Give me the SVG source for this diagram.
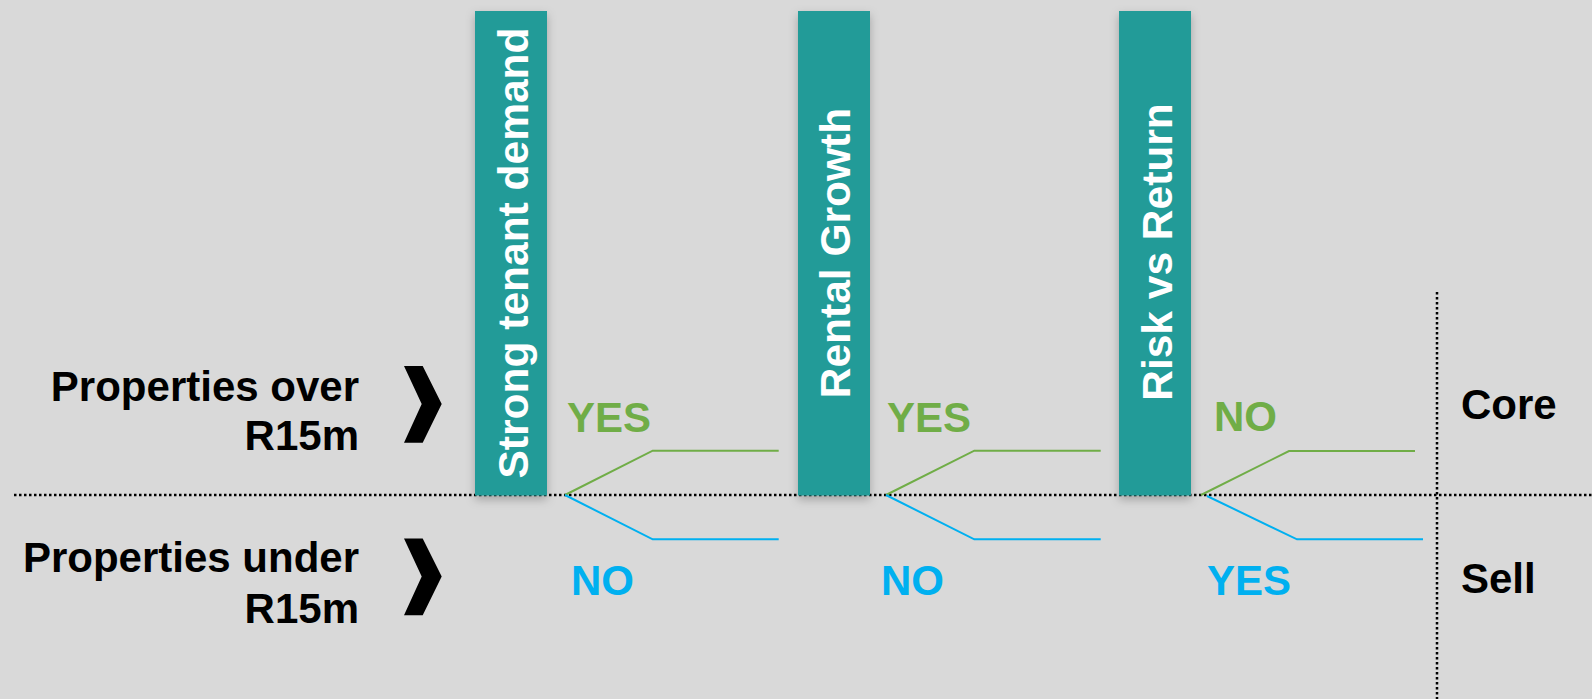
<svg xmlns="http://www.w3.org/2000/svg" width="1592" height="699" viewBox="0 0 1592 699">
  <style>
    .lbl { font-family: "Liberation Sans", Arial, sans-serif; font-weight: bold; font-size: 42px; }
    .dark { fill: #000000; }
    .bar-text { font-family: "Liberation Sans", Arial, sans-serif; font-weight: bold; font-size: 42.5px; fill: #ffffff; }
    .yes-g { fill: #70AD47; }
    .no-b { fill: #00B0F0; }
    .bar { fill: #239B98; filter: url(#shadow); }
    .grid { stroke: #000000; stroke-width: 2.5; stroke-dasharray: 2.5 2.5; fill: none; }
    .up { stroke: #70AD47; stroke-width: 2; fill: none; }
    .down { stroke: #00B0F0; stroke-width: 2; fill: none; }
  </style>
  <defs>
    <filter id="shadow" x="-40%" y="-10%" width="180%" height="120%">
      <feDropShadow dx="0" dy="4" stdDeviation="5" flood-color="#000000" flood-opacity="0.25"/>
    </filter>
    <polygon id="chevron" points="0,0 18.7,0 37.7,38 18.7,76.7 0,76.7 17.7,38"/>
  </defs>

  <rect x="0" y="0" width="1592" height="699" fill="#D9D9D9"/>

  <!-- divider lines -->
  <g id="dividers">
    <line class="grid" x1="14" y1="495" x2="1592" y2="495"/>
    <line class="grid" x1="1437" y1="292" x2="1437" y2="699"/>
  </g>

  <!-- row labels -->
  <g id="row-over">
    <text class="lbl dark" text-anchor="end" x="359" y="401">Properties over</text>
    <text class="lbl dark" text-anchor="end" x="359" y="450">R15m</text>
    <use href="#chevron" x="404" y="366"/>
  </g>
  <g id="row-under">
    <text class="lbl dark" text-anchor="end" x="359" y="572">Properties under</text>
    <text class="lbl dark" text-anchor="end" x="359" y="623">R15m</text>
    <use href="#chevron" x="404" y="538.5"/>
  </g>

  <!-- criteria bars -->
  <g id="criterion-demand">
    <rect class="bar" x="475" y="11" width="72" height="484.5"/>
    <text class="bar-text" text-anchor="middle" transform="translate(528,253) rotate(-90)">Strong tenant demand</text>
  </g>
  <g id="criterion-growth">
    <rect class="bar" x="798" y="11" width="72" height="484.5"/>
    <text class="bar-text" text-anchor="middle" transform="translate(850,253) rotate(-90)">Rental Growth</text>
  </g>
  <g id="criterion-risk">
    <rect class="bar" x="1119" y="11" width="72" height="484.5"/>
    <text class="bar-text" text-anchor="middle" transform="translate(1172,252) rotate(-90)">Risk vs Return</text>
  </g>

  <!-- branch connectors -->
  <g id="connectors">
    <polyline class="up" points="565,495 652.7,450.7 778.7,450.7"/>
    <polyline class="down" points="565,495 652.7,539.3 778.7,539.3"/>
    <polyline class="up" points="886,495 974.3,450.7 1100.7,450.7"/>
    <polyline class="down" points="886,495 974.3,539.3 1100.7,539.3"/>
    <polyline class="up" points="1201,495 1289,451 1415,451"/>
    <polyline class="down" points="1207,496 1297,539.3 1423,539.3"/>
  </g>

  <!-- branch answers -->
  <g id="answers">
    <text class="lbl yes-g" x="567" y="432">YES</text>
    <text class="lbl no-b" x="571" y="595">NO</text>
    <text class="lbl yes-g" x="887" y="432">YES</text>
    <text class="lbl no-b" x="881" y="595">NO</text>
    <text class="lbl yes-g" x="1214" y="431">NO</text>
    <text class="lbl no-b" x="1207" y="595">YES</text>
  </g>

  <!-- outcomes -->
  <g id="outcome-core">
    <text class="lbl dark" x="1461" y="419">Core</text>
  </g>
  <g id="outcome-sell">
    <text class="lbl dark" x="1461" y="593">Sell</text>
  </g>
</svg>
